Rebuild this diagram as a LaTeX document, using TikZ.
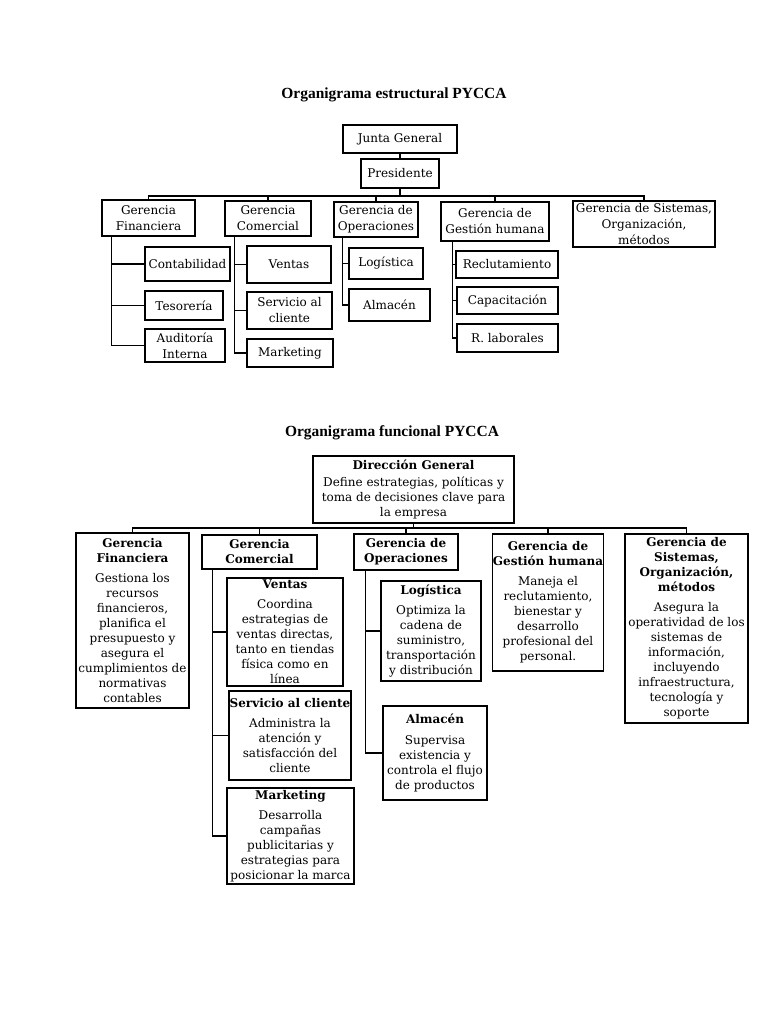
\documentclass[tikz,border=0pt]{standalone}
\usepackage{fontspec}
\setmainfont{DejaVu Serif}
\newfontfamily\titulofont{Liberation Serif}
\usetikzlibrary{calc}
\tikzset{
  caja/.style 2 args={draw, line width=0.9pt, align=center, inner sep=0.5pt,
    minimum width=#1*0.75pt, minimum height=#2*0.75pt,
    font=\fontsize{9}{12}\selectfont},
  cajaf/.style 2 args={caja={#1}{#2}, font=\fontsize{9}{11.25}\selectfont},
  linea/.style={line width=0.9pt},
  titulo/.style={font=\titulofont\bfseries\fontsize{11.6}{13}\selectfont},
}
\begin{document}
\begin{tikzpicture}[x=0.75pt,y=-0.75pt]
\useasboundingbox (0,0) rectangle (768,1024);

\node[titulo] (tit1) at (394,95) {Organigrama estructural PYCCA};

\node[caja={114}{28}] (junta) at (400,139) {Junta General};
\node[caja={78}{29}] (pres) at (400,173.5) {Presidente};

\node[caja={93}{36}] (gfin) at (148.5,218) {Gerencia\\Financiera};
\node[caja={86}{35}] (gcom) at (268,218.5) {Gerencia\\Comercial};
\node[caja={84}{35}] (gope) at (376,219.5) {Gerencia de\\Operaciones};
\node[caja={108}{39}] (ggh) at (495,221.5) {Gerencia de\\Gestión humana};
\node[caja={142}{46}] (gsis) at (644,224) {Gerencia de Sistemas,\\Organización,\\métodos};

\node[caja={85}{34}] (conta) at (187.5,264) {Contabilidad};
\node[caja={78}{29}] (teso) at (184,305.5) {Tesorería};
\node[caja={80}{33}] (audi) at (185,345.5) {Auditoría\\Interna};

\node[caja={84}{37}] (vent) at (289,264.5) {Ventas};
\node[caja={85}{37}] (serv) at (289.5,310.5) {Servicio al\\cliente};
\node[caja={86}{28}] (mark) at (290,353) {Marketing};

\node[caja={74}{31}] (logi) at (386,263.5) {Logística};
\node[caja={81}{32}] (alma) at (389.5,305) {Almacén};

\node[caja={102}{27}] (recl) at (507,264.5) {Reclutamiento};
\node[caja={101}{27}] (capa) at (507.5,300.5) {Capacitación};
\node[caja={101}{28}] (rlab) at (507.5,338) {R. laborales};

\coordinate (bus1) at (400,196);
\draw[linea] (junta) -- (pres);
\draw[linea] (pres.south) -- (bus1);
\draw[linea] (bus1) -| (gfin.north);
\draw[linea] (bus1) -| (gcom.north);
\draw[linea] (bus1) -| (gope.north);
\draw[linea] (bus1) -| (ggh.north);
\draw[linea] (bus1) -| (gsis.north);

\draw[linea] ($(gfin.south west)+(10,0)$) |- (conta.west);
\draw[linea] ($(gfin.south west)+(10,0)$) |- (teso.west);
\draw[linea] ($(gfin.south west)+(10,0)$) |- (audi.west);
\draw[linea] ($(gcom.south west)+(10,0)$) |- (vent.west);
\draw[linea] ($(gcom.south west)+(10,0)$) |- (serv.west);
\draw[linea] ($(gcom.south west)+(10,0)$) |- (mark.west);
\draw[linea] ($(gope.south west)+(9,0)$) |- (logi.west);
\draw[linea] ($(gope.south west)+(9,0)$) |- (alma.west);
\draw[linea] ($(ggh.south west)+(12,0)$) |- (recl.west);
\draw[linea] ($(ggh.south west)+(12,0)$) |- (capa.west);
\draw[linea] ($(ggh.south west)+(12,0)$) |- (rlab.west);

\node[titulo] (tit2) at (392,433) {Organigrama funcional PYCCA};

\node[cajaf={201}{67}] (dir) at (413.5,489.5) {\textbf{Dirección General}\\[2pt]
  Define estrategias, políticas y\\toma de decisiones clave para\\la empresa};

\node[cajaf={113}{175}] (bfin) at (132.5,620.5) {\textbf{Gerencia}\\\textbf{Financiera}\\[4pt]
  Gestiona los\\recursos\\financieros,\\planifica el\\presupuesto y\\asegura el\\cumplimientos de\\normativas\\contables};
\node[cajaf={115}{34}] (bcom) at (259.5,552) {\textbf{Gerencia}\\\textbf{Comercial}};
\node[cajaf={104}{36}] (bope) at (406,552) {\textbf{Gerencia de}\\\textbf{Operaciones}};
\node[cajaf={110}{137}] (bgh) at (548,602.5) {\textbf{Gerencia de}\\\textbf{Gestión humana}\\[4pt]
  Maneja el\\reclutamiento,\\bienestar y\\desarrollo\\profesional del\\personal.};
\node[cajaf={123}{189}] (bsis) at (686.5,628.5) {\textbf{Gerencia de}\\\textbf{Sistemas,}\\\textbf{Organización,}\\\textbf{métodos}\\[4pt]
  Asegura la\\operatividad de los\\sistemas de\\información,\\incluyendo\\infraestructura,\\tecnología y\\soporte};

\node[cajaf={116}{108}] (bvent) at (285,632) {\textbf{Ventas}\\[4pt]
  Coordina\\estrategias de\\ventas directas,\\tanto en tiendas\\física como en\\línea};
\node[cajaf={118}{89}] (bserv) at (290,735.5) {\textbf{Servicio al cliente}\\[4pt]
  Administra la\\atención y\\satisfacción del\\cliente};
\node[cajaf={127}{96}] (bmark) at (290.5,836) {\textbf{Marketing}\\[4pt]
  Desarrolla\\campañas\\publicitarias y\\estrategias para\\posicionar la marca};

\node[cajaf={100}{100}] (blogi) at (431,631) {\textbf{Logística}\\[4pt]
  Optimiza la\\cadena de\\suministro,\\transportación\\y distribución};
\node[cajaf={104}{94}] (balma) at (435,753) {\textbf{Almacén}\\[4pt]
  Supervisa\\existencia y\\controla el flujo\\de productos};

\coordinate (bus2) at (413.5,528);
\draw[linea] (dir.south) -- (bus2);
\draw[linea] (bus2) -| (bfin.north);
\draw[linea] (bus2) -| (bcom.north);
\draw[linea] (bus2) -| (bope.north);
\draw[linea] (bus2) -| (bgh.north);
\draw[linea] (bus2) -| (bsis.north);

\draw[linea] ($(bcom.south west)+(11,0)$) |- (bvent.west);
\draw[linea] ($(bcom.south west)+(11,0)$) |- (bserv.west);
\draw[linea] ($(bcom.south west)+(11,0)$) |- (bmark.west);
\draw[linea] ($(bope.south west)+(12,0)$) |- (blogi.west);
\draw[linea] ($(bope.south west)+(12,0)$) |- (balma.west);
\end{tikzpicture}
\end{document}
